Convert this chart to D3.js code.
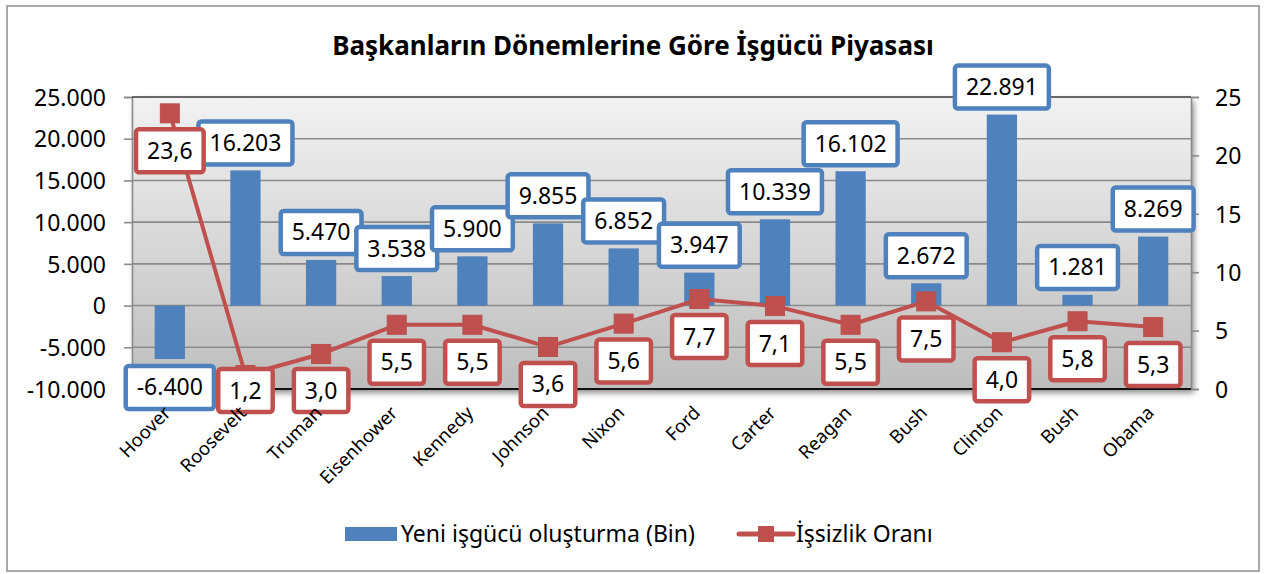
<!DOCTYPE html>
<html>
<head>
<meta charset="utf-8">
<script src="https://cdn.jsdelivr.net/npm/d3@7"></script>
<style>
  body { margin: 0; background: #fff; }
  svg text { font-family: "Noto Sans", sans-serif; fill: #000; }
</style>
</head>
<body>
<svg id="chart" width="1266" height="574"></svg>
<script>
// chart values
const presidents = ['Hoover', 'Roosevelt', 'Truman', 'Eisenhower', 'Kennedy', 'Johnson', 'Nixon',
                    'Ford', 'Carter', 'Reagan', 'Bush', 'Clinton', 'Bush', 'Obama']
const newJobs = [-6400, 16203, 5470, 3538, 5900, 9855, 6852, 3947, 10339, 16102, 2672, 22891, 1281, 8269]
const unemployment = [23.6, 1.2, 3.0, 5.5, 5.5, 3.6, 5.6, 7.7, 7.1, 5.5, 7.5, 4.0, 5.8, 5.3]
const leftTicks = [-10000, -5000, 0, 5000, 10000, 15000, 20000, 25000]
const rightTicks = [0, 5, 10, 15, 20, 25]

const titleText = 'Başkanların Dönemlerine Göre İşgücü Piyasası'
const seriesNames = ['Yeni işgücü oluşturma (Bin)', 'İşsizlik Oranı']

const blue = '#4F81BD'
const red = '#C0504D'

const trLocale = d3.formatLocale({decimal: ',', thousands: '.', grouping: [3], currency: ['', ''], minus: '-'})
const fmtJobs = trLocale.format(',d')
const fmtRate = trLocale.format('.1f')

let svg = d3.select('#chart')
let plot = {left: 132, right: 1191, top: 97, bottom: 389}

let x = d3.scaleBand()
          .domain(d3.range(presidents.length))
          .range([plot.left, plot.right])
          .paddingInner(0.6)
          .paddingOuter(0.3)
let cx = (i) => x(i) + x.bandwidth() / 2

let yLeft = d3.scaleLinear().domain([-10000, 25000]).range([plot.bottom, plot.top])
let yRight = d3.scaleLinear().domain([0, 25]).range([plot.bottom, plot.top])

let defs = svg.append('defs')
let grad = defs.append('linearGradient')
               .attr('id', 'plotBg')
               .attr('x1', 0).attr('y1', 0).attr('x2', 0).attr('y2', 1)
grad.append('stop').attr('offset', '0%').attr('stop-color', '#F2F2F2')
grad.append('stop').attr('offset', '100%').attr('stop-color', '#BDBDBD')

let shadow = defs.append('filter').attr('id', 'shadow')
                 .attr('x', '-5%').attr('y', '-5%').attr('width', '110%').attr('height', '120%')
shadow.append('feDropShadow').attr('dx', 3).attr('dy', 4).attr('stdDeviation', 3)
      .attr('flood-color', '#000').attr('flood-opacity', 0.45)

// outer frame
svg.append('rect')
   .attr('x', 7).attr('y', 6).attr('width', 1252).attr('height', 565)
   .attr('fill', '#fff').attr('stroke', '#8C8C8C').attr('stroke-width', 1.5)

// title
svg.append('text')
   .attr('x', 633).attr('y', 55)
   .attr('text-anchor', 'middle')
   .style('font-size', '26px').style('font-weight', 'bold')
   .text(titleText)

// plot area
svg.append('rect')
   .attr('x', plot.left).attr('y', plot.top)
   .attr('width', plot.right - plot.left).attr('height', plot.bottom - plot.top)
   .attr('fill', 'url(#plotBg)')
   .attr('filter', 'url(#shadow)')

// gridlines
svg.append('g')
   .selectAll('line')
   .data(leftTicks.filter(t => t > -10000 && t < 25000))
   .enter()
   .append('line')
   .attr('x1', plot.left).attr('x2', plot.right)
   .attr('y1', d => yLeft(d)).attr('y2', d => yLeft(d))
   .attr('stroke', '#8A8A8A').attr('stroke-width', 1.6)

// left axis
let leftAxis = svg.append('g')
   .attr('transform', `translate(${plot.left},0)`)
   .call(d3.axisLeft(yLeft).tickValues(leftTicks).tickFormat(fmtJobs).tickSize(8).tickPadding(18))
leftAxis.select('.domain').attr('stroke', '#8A8A8A').attr('stroke-width', 1.6)
leftAxis.selectAll('.tick line').attr('stroke', '#8A8A8A').attr('stroke-width', 1.6)
leftAxis.selectAll('.tick text').style('font-size', '23px').attr('dy', '0.36em')

// right axis
let rightAxis = svg.append('g')
   .attr('transform', `translate(${plot.right},0)`)
   .call(d3.axisRight(yRight).tickValues(rightTicks).tickFormat(d3.format('d')).tickSize(8).tickPadding(16))
rightAxis.select('.domain').attr('stroke', '#8A8A8A').attr('stroke-width', 1.6)
rightAxis.selectAll('.tick line').attr('stroke', '#8A8A8A').attr('stroke-width', 1.6)
rightAxis.selectAll('.tick text').style('font-size', '23px').attr('dy', '0.36em')

// top and bottom edges
svg.append('line')
   .attr('x1', plot.left).attr('x2', plot.right)
   .attr('y1', plot.top).attr('y2', plot.top)
   .attr('stroke', '#3A3A3A').attr('stroke-width', 1.6)
svg.append('line')
   .attr('x1', plot.left).attr('x2', plot.right)
   .attr('y1', plot.bottom).attr('y2', plot.bottom)
   .attr('stroke', '#111').attr('stroke-width', 2)

// bars
svg.append('g')
   .selectAll('rect')
   .data(newJobs)
   .enter()
   .append('rect')
   .attr('x', (d, i) => x(i))
   .attr('width', x.bandwidth())
   .attr('y', d => yLeft(Math.max(0, d)))
   .attr('height', d => Math.abs(yLeft(d) - yLeft(0)))
   .attr('fill', blue)

// unemployment line
let line = d3.line()
             .x((d, i) => cx(i))
             .y(d => yRight(d))
svg.append('path')
   .datum(unemployment)
   .attr('d', line)
   .attr('fill', 'none')
   .attr('stroke', red)
   .attr('stroke-width', 4)
   .attr('stroke-linejoin', 'round')

let mk = 19
svg.append('g')
   .selectAll('rect')
   .data(unemployment)
   .enter()
   .append('rect')
   .attr('x', (d, i) => cx(i) - mk / 2)
   .attr('y', d => yRight(d) - mk / 2)
   .attr('width', mk).attr('height', mk)
   .attr('fill', red)
   .attr('stroke', '#B9504D').attr('stroke-width', 1)

// data labels
let boxH = 43
let drawLabel = (g, cxv, top, txt, color) => {
    let box = g.append('rect')
    let t = g.append('text')
             .attr('x', cxv).attr('y', top + boxH / 2 + 8)
             .attr('text-anchor', 'middle')
             .style('font-size', '23px')
             .text(txt)
    let w = t.node().getComputedTextLength() + 22
    box.attr('x', cxv - w / 2).attr('y', top)
       .attr('width', w).attr('height', boxH)
       .attr('rx', 3).attr('ry', 3)
       .attr('fill', '#fff')
       .attr('stroke', color).attr('stroke-width', 4.5)
}

let blueLabels = svg.append('g')
newJobs.forEach((d, i) => {
    let top = d >= 0 ? yLeft(d) - 6 - boxH : yLeft(d) + 7
    drawLabel(blueLabels.append('g'), cx(i), top, fmtJobs(d), blue)
})

let redLabels = svg.append('g')
unemployment.forEach((d, i) => {
    let top = Math.min(yRight(d) + 16, 369)
    drawLabel(redLabels.append('g'), cx(i), top, fmtRate(d), red)
})

// category labels
svg.append('g')
   .selectAll('text')
   .data(presidents)
   .enter()
   .append('text')
   .attr('transform', (d, i) => `translate(${cx(i) + 2},414) rotate(-45)`)
   .attr('text-anchor', 'end')
   .style('font-size', '18.5px')
   .text(d => d)

// legend
let legend = svg.append('g')
legend.append('rect')
      .attr('x', 345).attr('y', 527).attr('width', 52).attr('height', 14)
      .attr('fill', blue)
legend.append('text')
      .attr('x', 401).attr('y', 542)
      .style('font-size', '23px')
      .text(seriesNames[0])
legend.append('line')
      .attr('x1', 739).attr('x2', 793).attr('y1', 534).attr('y2', 534)
      .attr('stroke', red).attr('stroke-width', 5).attr('stroke-linecap', 'round')
legend.append('rect')
      .attr('x', 758).attr('y', 526).attr('width', 16).attr('height', 16)
      .attr('fill', red)
legend.append('text')
      .attr('x', 796).attr('y', 542)
      .style('font-size', '23px')
      .text(seriesNames[1])
</script>
</body>
</html>
